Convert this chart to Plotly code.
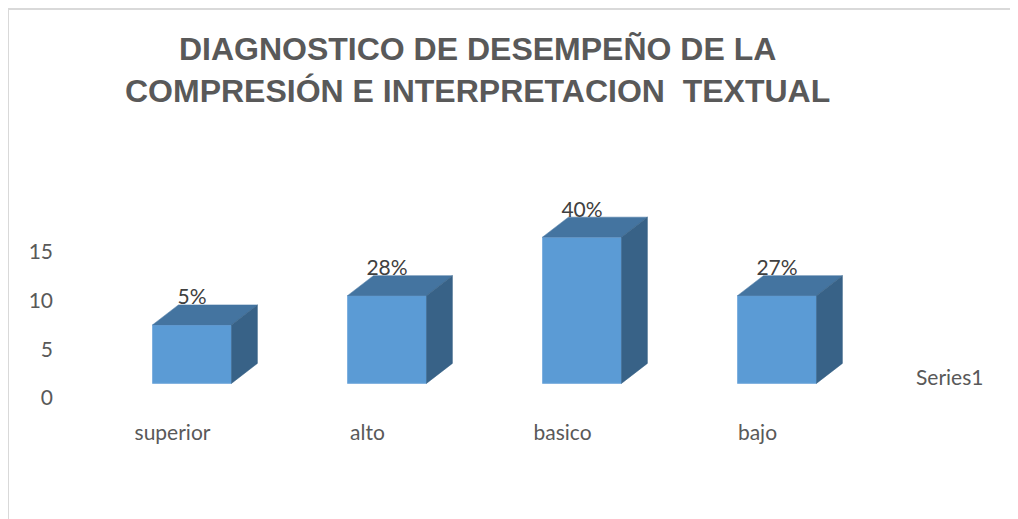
import plotly.graph_objects as go

# ---- data ----
categories = ["superior", "alto", "basico", "bajo"]
values = [6, 9, 15, 9]
labels = ["5%", "28%", "40%", "27%"]
y_ticks = [0, 5, 10, 15]
series_name = "Series1"
title_lines = ["DIAGNOSTICO DE DESEMPEÑO DE LA", "COMPRESIÓN E INTERPRETACION  TEXTUAL"]

# ---- styling / projection (axis units) ----
OFF = 8  # default page body margin
W, H = 1018 - OFF, 519 - OFF
FRONT = "#5b9bd5"
TOP = "#4474a0"
SIDE = "#386287"
TXT = "#595959"
FONT = "Lato, Open Sans, sans-serif"
BAR_W = 0.405
FLOOR = 1.5           # bars sit mid-depth on the floor
DX, DY = 0.133, 2.05  # depth offset of bar back face

PX_PER_CAT = 195.0
PX_PER_UNIT = 9.75
X0_PX = 192.0 - OFF
Y0_PX = 398.0 - OFF
ml, mt = 70 - OFF, 190 - OFF
mr = W - (880 - OFF)
mb = H - (413 - OFF)
pw, ph = W - ml - mr, H - mt - mb
x_range = [(ml - X0_PX) / PX_PER_CAT, (W - mr - X0_PX) / PX_PER_CAT]
y_range = [(Y0_PX - (H - mb)) / PX_PER_UNIT, (Y0_PX - mt) / PX_PER_UNIT]


def px_x(p):  # page px -> paper x
    return (p - OFF - ml) / pw


def px_y(p):  # page px -> paper y
    return 1 - (p - OFF - mt) / ph


fig = go.Figure()
xs = list(range(len(categories)))

# front faces
fig.add_trace(go.Bar(x=xs, y=values, base=[FLOOR] * len(values), width=BAR_W,
                     marker=dict(color=FRONT, line=dict(color="#7fb0df", width=1)),
                     name=series_name, showlegend=False, hoverinfo="skip"))

# top and side faces
for i, v in zip(xs, values):
    x0, x1 = i - BAR_W / 2, i + BAR_W / 2
    yb, yt = FLOOR, FLOOR + v
    fig.add_trace(go.Scatter(x=[x0, x1, x1 + DX, x0 + DX, x0],
                             y=[yt, yt, yt + DY, yt + DY, yt],
                             fill="toself", fillcolor=TOP, mode="lines",
                             line=dict(color=TOP, width=0.5),
                             showlegend=False, hoverinfo="skip"))
    fig.add_trace(go.Scatter(x=[x1, x1 + DX, x1 + DX, x1, x1],
                             y=[yb, yb + DY, yt + DY, yt, yb],
                             fill="toself", fillcolor=SIDE, mode="lines",
                             line=dict(color=SIDE, width=0.5),
                             showlegend=False, hoverinfo="skip"))

# data labels
fig.add_trace(go.Scatter(x=xs, y=[FLOOR + v + DY + 0.6 for v in values],
                         text=labels, mode="text", textposition="middle center",
                         textfont=dict(family=FONT, size=21, color="#404040"),
                         showlegend=False, hoverinfo="skip"))

fig.update_layout(
    width=W, height=H,
    margin=dict(l=ml, r=mr, t=mt, b=mb, pad=0),
    paper_bgcolor="white", plot_bgcolor="white",
    showlegend=False,
    xaxis=dict(range=x_range, tickvals=[i - 0.1 for i in xs], ticktext=categories,
               showgrid=False, zeroline=False, showline=False, ticks="",
               ticklabelstandoff=5,
               tickfont=dict(family=FONT, size=21, color=TXT)),
    yaxis=dict(range=y_range, tickvals=y_ticks, showgrid=False, zeroline=False,
               showline=False, ticks="", ticklabelstandoff=16,
               tickfont=dict(family=FONT, size=21, color=TXT)),
    font=dict(family=FONT, color=TXT),
)

# title
fig.add_annotation(text="<br>".join(title_lines), x=px_x(478), y=px_y(70),
                   xref="paper", yref="paper", xanchor="center", yanchor="middle",
                   showarrow=False, align="center",
                   font=dict(family="Liberation Sans, Arial, sans-serif", size=32,
                             color=TXT, weight="bold"))

# legend text (no key shown in the original)
fig.add_annotation(text=series_name, x=px_x(914), y=px_y(376),
                   xref="paper", yref="paper", xanchor="left", yanchor="middle",
                   showarrow=False, font=dict(family=FONT, size=21, color=TXT))

# chart border (top and left edges)
fig.add_shape(type="line", xref="paper", yref="paper", x0=px_x(6), x1=px_x(1018),
              y0=px_y(9), y1=px_y(9), line=dict(color="#d9d9d9", width=2))
fig.add_shape(type="line", xref="paper", yref="paper", x0=px_x(8), x1=px_x(8),
              y0=px_y(9), y1=px_y(519), line=dict(color="#d9d9d9", width=2))

fig.write_html("out.html")
